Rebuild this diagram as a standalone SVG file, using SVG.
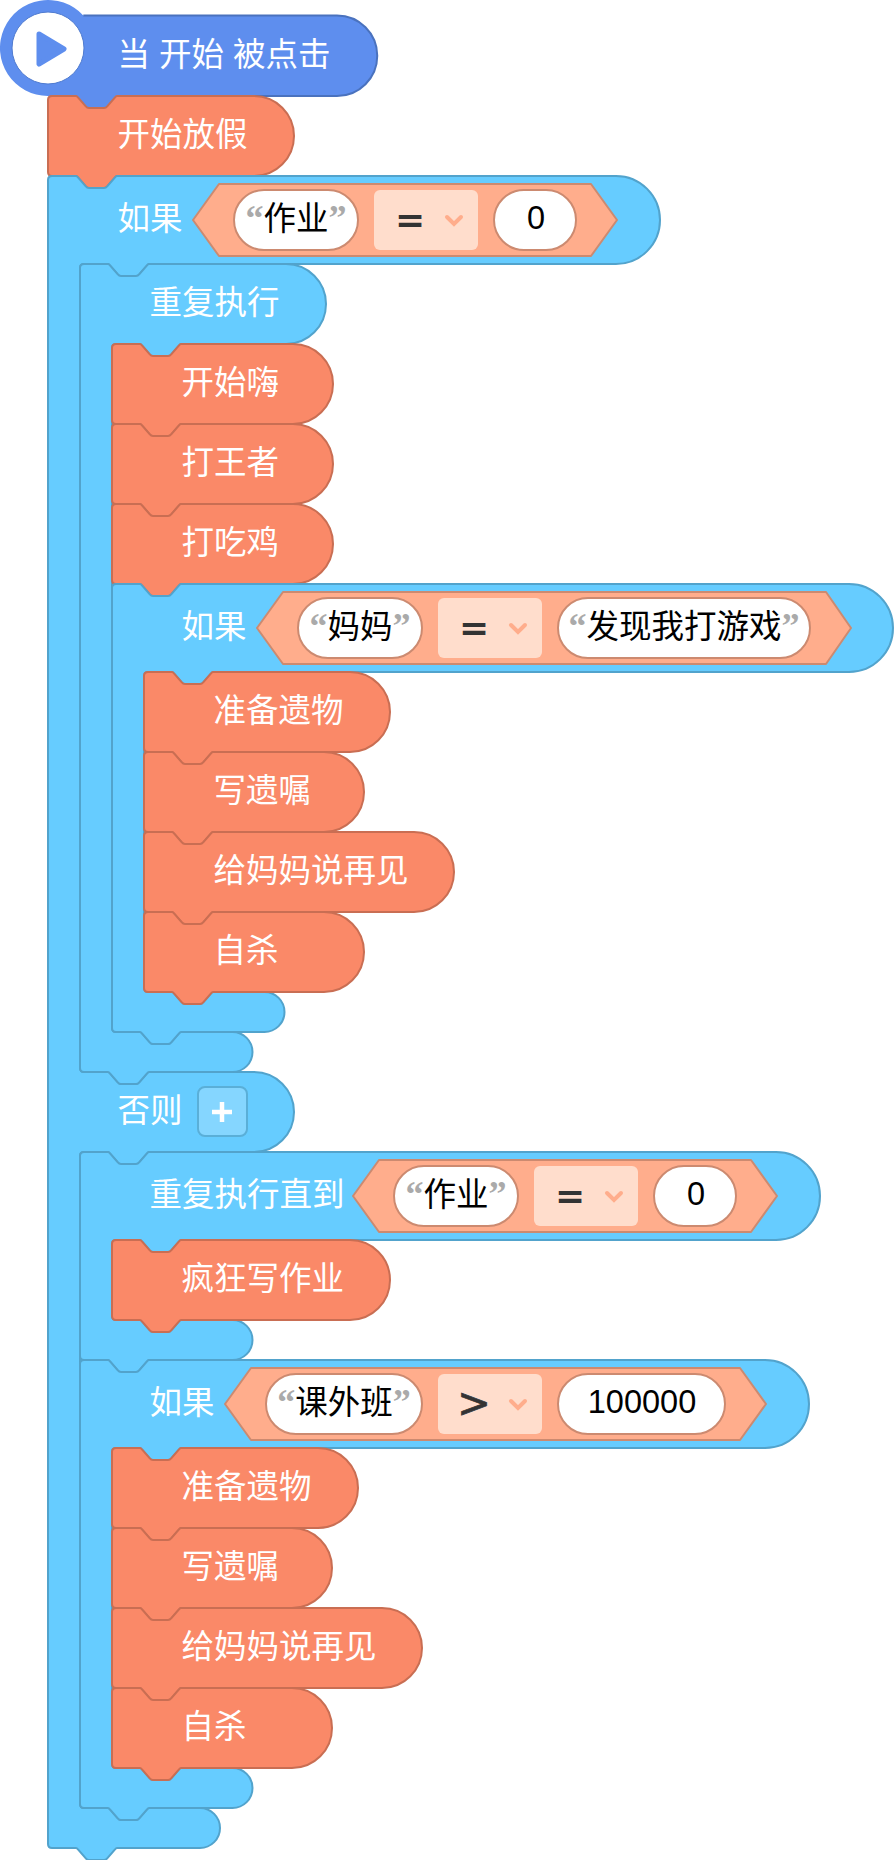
<svg xmlns="http://www.w3.org/2000/svg" width="894" height="1860" viewBox="0 0 894 1860">
<style>
text{font-family:"Liberation Sans","Noto Sans CJK SC",sans-serif;font-size:32.5px}
.blue{fill:#66ccff;stroke:#52a3cc;stroke-width:2}
.orange{fill:#fa8968;stroke:#c96e53;stroke-width:2}
.cond{fill:#ffad8c;stroke:#cc8a70;stroke-width:2;stroke-linejoin:round}
.pill{fill:#fff;stroke:#cc8a70;stroke-width:2}
.drop{fill:#ffddcc}
.chev{fill:none;stroke:#ffad8c;stroke-width:4;stroke-linecap:round}
.t{fill:#fff}
.v{fill:#000;text-anchor:middle}
.q{fill:#aaa;font-family:"Liberation Serif",serif;font-size:36px;font-weight:bold}
.op{fill:#333;font-family:"DejaVu Sans",sans-serif;font-size:36px;font-weight:bold;text-anchor:middle}
.gt{fill:#333;stroke:#333;stroke-width:.8px;font-family:"DejaVu Sans",sans-serif;font-size:40px;text-anchor:middle}
</style>
<g id="hat">
<path d="M83.3,15.5H337A40.25,40.25 0 0 1 337,96H117q-1 0-2 1.500l-8 9q-1 1.500-3 1.500h-15q-2 0-3-1.500l-8-9q-1-1.500-2-1.500H48A48,48 0 1 1 83.300,15.500Z" fill="#5e8eee"/>
<path d="M83.3,15.5H337A40.25,40.25 0 0 1 337,96H117" fill="none" stroke="#4a72be" stroke-width="2"/>
<circle cx="48" cy="48" r="36" fill="#fff" stroke="#4f7bd0" stroke-width="1"/>
<path d="M39,34L64,49L39,64Z" fill="#5e8eee" stroke="#5e8eee" stroke-width="5" stroke-linejoin="round"/>
<text class="t" x="117.500" y="66" xml:space="preserve">当 开始 被点击</text>
</g>
<g id="start-holiday">
<path class="orange" d="M48,100q0-4 4-4H76q1 0 2 1.500l8 9q1 1.500 3 1.500h15q2 0 3-1.500l8-9q1-1.500 2-1.500H254A40,40 0 0 1 254,176H117q-1 0-2 1.500l-8 9q-1 1.500-3 1.500h-15q-2 0-3-1.500l-8-9q-1-1.500-2-1.500H52q-4 0-4-4Z"/>
<text class="t" x="117.500" y="146">开始放假</text>
</g>
<g id="if-else">
<path class="blue" d="M48,180q0-4 4-4H76q1 0 2 1.500l8 9q1 1.500 3 1.500h15q2 0 3-1.500l8-9q1-1.500 2-1.500H616A44,44 0 0 1 616,264H149q-1 0-2 1.500l-8 9q-1 1.500-3 1.500h-15q-2 0-3-1.500l-8-9q-1-1.500-2-1.500H84q-4 0-4,4V1068q0,4 4,4H108q1 0 2 1.500l8 9q1 1.500 3 1.500h15q2 0 3-1.500l8-9q1-1.500 2-1.500H254A40,40 0 0 1 254,1152H149q-1 0-2 1.500l-8 9q-1 1.500-3 1.500h-15q-2 0-3-1.500l-8-9q-1-1.500-2-1.500H84q-4 0-4,4V1804q0,4 4,4H108q1 0 2 1.500l8 9q1 1.500 3 1.500h15q2 0 3-1.500l8-9q1-1.500 2-1.500H200A20,20 0 0 1 200,1848H117q-1 0-2 1.500l-8 9q-1 1.500-3 1.500h-15q-2 0-3-1.500l-8-9q-1-1.500-2-1.500H52q-4 0-4-4Z"/>
<text class="t" x="117.500" y="230">如果</text>
<path class="cond" d="M193,220L219,184H591L617,220L591,256H219Z"/>
<rect class="pill" x="234" y="190" width="124" height="60" rx="30"/>
<text class="v" x="296" y="230"><tspan class="q">“</tspan>作业<tspan class="q">”</tspan></text>
<rect class="drop" x="374" y="190" width="104" height="60" rx="6"/>
<text class="op" x="410" y="231.500">=</text>
<path class="chev" d="M447,217l7,7l7-7"/>
<rect class="pill" x="494" y="190" width="82" height="60" rx="30"/>
<text class="v" x="536" y="229">0</text>
<text class="t" x="117.500" y="1122">否则</text>
<rect x="198" y="1087" width="49" height="49" rx="7" fill="#85d6ff" stroke="#5aafd8" stroke-width="2"/>
<path d="M212,1112h20M222,1102v20" stroke="#fff" stroke-width="4.500" fill="none"/>
</g>
<g id="repeat-forever">
<path class="blue" d="M80,268q0-4 4-4H108q1 0 2 1.500l8 9q1 1.500 3 1.500h15q2 0 3-1.500l8-9q1-1.500 2-1.500H286A40,40 0 0 1 286,344H181q-1 0-2 1.500l-8 9q-1 1.500-3 1.500h-15q-2 0-3-1.500l-8-9q-1-1.500-2-1.500H116q-4 0-4,4V1028q0,4 4,4H140q1 0 2 1.500l8 9q1 1.500 3 1.500h15q2 0 3-1.500l8-9q1-1.500 2-1.500H232.500A20,20 0 0 1 232.500,1072H149q-1 0-2 1.500l-8 9q-1 1.500-3 1.500h-15q-2 0-3-1.500l-8-9q-1-1.500-2-1.500H84q-4 0-4-4Z"/>
<text class="t" x="149.500" y="314">重复执行</text>
</g>
<g id="start-fun">
<path class="orange" d="M112,348q0-4 4-4H140q1 0 2 1.500l8 9q1 1.500 3 1.500h15q2 0 3-1.500l8-9q1-1.500 2-1.500H293A40,40 0 0 1 293,424H181q-1 0-2 1.500l-8 9q-1 1.500-3 1.500h-15q-2 0-3-1.500l-8-9q-1-1.500-2-1.500H116q-4 0-4-4Z"/>
<text class="t" x="181.500" y="394">开始嗨</text>
</g>
<g id="play-kings">
<path class="orange" d="M112,428q0-4 4-4H140q1 0 2 1.500l8 9q1 1.500 3 1.500h15q2 0 3-1.500l8-9q1-1.500 2-1.500H293A40,40 0 0 1 293,504H181q-1 0-2 1.500l-8 9q-1 1.500-3 1.500h-15q-2 0-3-1.500l-8-9q-1-1.500-2-1.500H116q-4 0-4-4Z"/>
<text class="t" x="181.500" y="474">打王者</text>
</g>
<g id="play-pubg">
<path class="orange" d="M112,508q0-4 4-4H140q1 0 2 1.500l8 9q1 1.500 3 1.500h15q2 0 3-1.500l8-9q1-1.500 2-1.500H293A40,40 0 0 1 293,584H181q-1 0-2 1.500l-8 9q-1 1.500-3 1.500h-15q-2 0-3-1.500l-8-9q-1-1.500-2-1.500H116q-4 0-4-4Z"/>
<text class="t" x="181.500" y="554">打吃鸡</text>
</g>
<g id="if-mom">
<path class="blue" d="M112,588q0-4 4-4H140q1 0 2 1.500l8 9q1 1.500 3 1.500h15q2 0 3-1.500l8-9q1-1.500 2-1.500H849A44,44 0 0 1 849,672H213q-1 0-2 1.500l-8 9q-1 1.500-3 1.500h-15q-2 0-3-1.500l-8-9q-1-1.500-2-1.500H148q-4 0-4,4V988q0,4 4,4H172q1 0 2 1.500l8 9q1 1.500 3 1.500h15q2 0 3-1.500l8-9q1-1.500 2-1.500H264.500A20,20 0 0 1 264.500,1032H181q-1 0-2 1.500l-8 9q-1 1.500-3 1.500h-15q-2 0-3-1.500l-8-9q-1-1.500-2-1.500H116q-4 0-4-4Z"/>
<text class="t" x="181.500" y="638">如果</text>
<path class="cond" d="M257,628L283,592H826L851,628L826,664H283Z"/>
<rect class="pill" x="298" y="598" width="124" height="60" rx="30"/>
<text class="v" x="360" y="638"><tspan class="q">“</tspan>妈妈<tspan class="q">”</tspan></text>
<rect class="drop" x="438" y="598" width="104" height="60" rx="6"/>
<text class="op" x="474" y="639.500">=</text>
<path class="chev" d="M511,625l7,7l7-7"/>
<rect class="pill" x="558" y="598" width="252" height="60" rx="30"/>
<text class="v" x="684" y="638"><tspan class="q">“</tspan>发现我打游戏<tspan class="q">”</tspan></text>
</g>
<g id="prepare-1">
<path class="orange" d="M144,676q0-4 4-4H172q1 0 2 1.500l8 9q1 1.500 3 1.500h15q2 0 3-1.500l8-9q1-1.500 2-1.500H350A40,40 0 0 1 350,752H213q-1 0-2 1.500l-8 9q-1 1.500-3 1.500h-15q-2 0-3-1.500l-8-9q-1-1.500-2-1.500H148q-4 0-4-4Z"/>
<text class="t" x="213.500" y="722">准备遗物</text>
</g>
<g id="will-1">
<path class="orange" d="M144,756q0-4 4-4H172q1 0 2 1.500l8 9q1 1.500 3 1.500h15q2 0 3-1.500l8-9q1-1.500 2-1.500H324A40,40 0 0 1 324,832H213q-1 0-2 1.500l-8 9q-1 1.500-3 1.500h-15q-2 0-3-1.500l-8-9q-1-1.500-2-1.500H148q-4 0-4-4Z"/>
<text class="t" x="213.500" y="802">写遗嘱</text>
</g>
<g id="bye-1">
<path class="orange" d="M144,836q0-4 4-4H172q1 0 2 1.500l8 9q1 1.500 3 1.500h15q2 0 3-1.500l8-9q1-1.500 2-1.500H414A40,40 0 0 1 414,912H213q-1 0-2 1.500l-8 9q-1 1.500-3 1.500h-15q-2 0-3-1.500l-8-9q-1-1.500-2-1.500H148q-4 0-4-4Z"/>
<text class="t" x="213.500" y="882">给妈妈说再见</text>
</g>
<g id="end-1">
<path class="orange" d="M144,916q0-4 4-4H172q1 0 2 1.500l8 9q1 1.500 3 1.500h15q2 0 3-1.500l8-9q1-1.500 2-1.500H324A40,40 0 0 1 324,992H213q-1 0-2 1.500l-8 9q-1 1.500-3 1.500h-15q-2 0-3-1.500l-8-9q-1-1.500-2-1.500H148q-4 0-4-4Z"/>
<text class="t" x="213.500" y="962">自杀</text>
</g>
<g id="repeat-until">
<path class="blue" d="M80,1156q0-4 4-4H108q1 0 2 1.500l8 9q1 1.500 3 1.500h15q2 0 3-1.500l8-9q1-1.500 2-1.500H776A44,44 0 0 1 776,1240H181q-1 0-2 1.500l-8 9q-1 1.500-3 1.500h-15q-2 0-3-1.500l-8-9q-1-1.500-2-1.500H116q-4 0-4,4V1316q0,4 4,4H140q1 0 2 1.500l8 9q1 1.500 3 1.500h15q2 0 3-1.500l8-9q1-1.500 2-1.500H232.500A20,20 0 0 1 232.500,1360H149q-1 0-2 1.500l-8 9q-1 1.500-3 1.500h-15q-2 0-3-1.500l-8-9q-1-1.500-2-1.500H84q-4 0-4-4Z"/>
<text class="t" x="149.500" y="1206">重复执行直到</text>
<path class="cond" d="M353,1196L379,1160H751L777,1196L751,1232H379Z"/>
<rect class="pill" x="394" y="1166" width="124" height="60" rx="30"/>
<text class="v" x="456" y="1206"><tspan class="q">“</tspan>作业<tspan class="q">”</tspan></text>
<rect class="drop" x="534" y="1166" width="104" height="60" rx="6"/>
<text class="op" x="570" y="1207.500">=</text>
<path class="chev" d="M607,1193l7,7l7-7"/>
<rect class="pill" x="654" y="1166" width="82" height="60" rx="30"/>
<text class="v" x="696" y="1205">0</text>
</g>
<g id="homework">
<path class="orange" d="M112,1244q0-4 4-4H140q1 0 2 1.500l8 9q1 1.500 3 1.500h15q2 0 3-1.500l8-9q1-1.500 2-1.500H350A40,40 0 0 1 350,1320H181q-1 0-2 1.500l-8 9q-1 1.500-3 1.500h-15q-2 0-3-1.500l-8-9q-1-1.500-2-1.500H116q-4 0-4-4Z"/>
<text class="t" x="181.500" y="1290">疯狂写作业</text>
</g>
<g id="if-class">
<path class="blue" d="M80,1364q0-4 4-4H108q1 0 2 1.500l8 9q1 1.500 3 1.500h15q2 0 3-1.500l8-9q1-1.500 2-1.500H765A44,44 0 0 1 765,1448H181q-1 0-2 1.500l-8 9q-1 1.500-3 1.500h-15q-2 0-3-1.500l-8-9q-1-1.500-2-1.500H116q-4 0-4,4V1764q0,4 4,4H140q1 0 2 1.500l8 9q1 1.500 3 1.500h15q2 0 3-1.500l8-9q1-1.500 2-1.500H232.500A20,20 0 0 1 232.500,1808H149q-1 0-2 1.500l-8 9q-1 1.500-3 1.500h-15q-2 0-3-1.500l-8-9q-1-1.500-2-1.500H84q-4 0-4-4Z"/>
<text class="t" x="149.500" y="1414">如果</text>
<path class="cond" d="M225,1404L251,1368H740L766,1404L740,1440H251Z"/>
<rect class="pill" x="266" y="1374" width="156" height="60" rx="30"/>
<text class="v" x="344" y="1414"><tspan class="q">“</tspan>课外班<tspan class="q">”</tspan></text>
<rect class="drop" x="438" y="1374" width="104" height="60" rx="6"/>
<text class="gt" x="474" y="1417">&gt;</text>
<path class="chev" d="M511,1401l7,7l7-7"/>
<rect class="pill" x="558" y="1374" width="167" height="60" rx="30"/>
<text class="v" x="642" y="1413">100000</text>
</g>
<g id="prepare-2">
<path class="orange" d="M112,1452q0-4 4-4H140q1 0 2 1.500l8 9q1 1.500 3 1.500h15q2 0 3-1.500l8-9q1-1.500 2-1.500H318A40,40 0 0 1 318,1528H181q-1 0-2 1.500l-8 9q-1 1.500-3 1.500h-15q-2 0-3-1.500l-8-9q-1-1.500-2-1.500H116q-4 0-4-4Z"/>
<text class="t" x="181.500" y="1498">准备遗物</text>
</g>
<g id="will-2">
<path class="orange" d="M112,1532q0-4 4-4H140q1 0 2 1.500l8 9q1 1.500 3 1.500h15q2 0 3-1.500l8-9q1-1.500 2-1.500H292A40,40 0 0 1 292,1608H181q-1 0-2 1.500l-8 9q-1 1.500-3 1.500h-15q-2 0-3-1.500l-8-9q-1-1.500-2-1.500H116q-4 0-4-4Z"/>
<text class="t" x="181.500" y="1578">写遗嘱</text>
</g>
<g id="bye-2">
<path class="orange" d="M112,1612q0-4 4-4H140q1 0 2 1.500l8 9q1 1.500 3 1.500h15q2 0 3-1.500l8-9q1-1.500 2-1.500H382A40,40 0 0 1 382,1688H181q-1 0-2 1.500l-8 9q-1 1.500-3 1.500h-15q-2 0-3-1.500l-8-9q-1-1.500-2-1.500H116q-4 0-4-4Z"/>
<text class="t" x="181.500" y="1658">给妈妈说再见</text>
</g>
<g id="end-2">
<path class="orange" d="M112,1692q0-4 4-4H140q1 0 2 1.500l8 9q1 1.500 3 1.500h15q2 0 3-1.500l8-9q1-1.500 2-1.500H292A40,40 0 0 1 292,1768H181q-1 0-2 1.500l-8 9q-1 1.500-3 1.500h-15q-2 0-3-1.500l-8-9q-1-1.500-2-1.500H116q-4 0-4-4Z"/>
<text class="t" x="181.500" y="1738">自杀</text>
</g>
</svg>
